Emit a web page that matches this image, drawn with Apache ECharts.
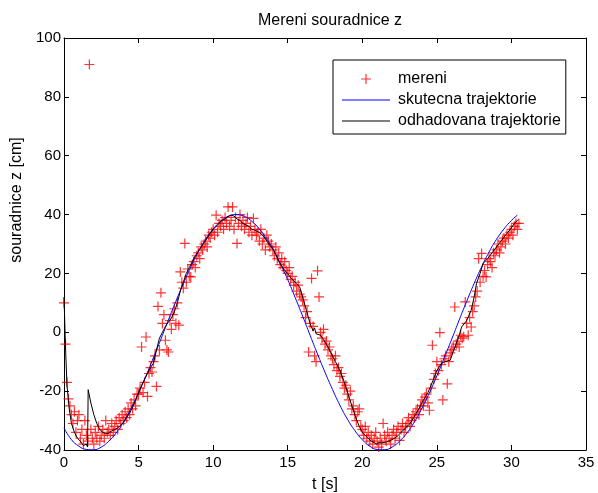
<!DOCTYPE html>
<html><head><meta charset="utf-8">
<script src="https://cdn.jsdelivr.net/npm/echarts@6/dist/echarts.min.js"></script>
<style>html,body{margin:0;padding:0;background:#fff}#c{width:598px;height:493px}</style>
</head><body><div id="c"></div>
<script>
const titleText = 'Mereni souradnice z';
const xName = 't [s]';
const yName = 'souradnice z [cm]';
const seriesNames = ['mereni', 'skutecna trajektorie', 'odhadovana trajektorie'];
const xTicks = { min: 0, max: 35, step: 5 };
const yTicks = { min: -40, max: 100, step: 20 };

// measurements sampled every 0.1 s from t = 0
const measT0 = 0, measDt = 0.1;
const measZ = [
  10, -4, -17, -22.6, -25, -28, -31, -27, -34, -30,
  -28, -36, -33, -38, -30, -35, -37, 91, -33, -36,
  -38, -34, -36, -32, -37, -35, -33, -36, -30, -34,
  -33, -35, -31, -34, -32, -30, -33, -29, -31, -28,
  -30, -27, -29, -26, -28, -24, -26, -23, -25, -21,
  -21, -19, -5, -20.5, -17, -1.6, -21.8, -14, -12, -13.5,
  -10, -8, -18.4, 8.8, -6, 13.4, 3, 6, -2.7, -6,
  -6.7, 4, 1, 6, 8, 3, 10, 2.4, 20.5, 17,
  15, 30.2, 17, 21.5, 19, 18.8, 23, 24, 22, 26,
  27, 25, 29, 28, 30, 31, 29, 33, 32, 34,
  35, 33, 39.8, 34, 37, 36, 38, 35, 39, 37,
  42.6, 36, 38, 42.6, 35, 39, 30.2, 37, 40, 36,
  38, 35, 37, 39, 34, 36, 33, 38.7, 35, 33,
  34, 31, 35, 30, 32, 28, 33, 31, 29, 30,
  28, 26, 29, 25, 27, 23, 25, 22, 24, 21,
  20, 22, 18, 19, 16, 17, 14, 16, 13, 12,
  11, 9, 5, 7, -6.7, 3, 18.3, 2, -8, -10,
  20.9, 12, 0, -2, 1, -4, -3, -6, -5, -8,
  -9, -11, -8, -13, -12, -15, -14, -17, -19, -18,
  -21, -23, -20, -26, -25, -28, -30, -27, -26, -32,
  -33, -35, -32, -36, -34, -37, -35, -38, -36, -34,
  -37, -39, -36, -38, -31, -35, -37, -34, -36, -38,
  -35, -33, -36, -34, -32, -36.7, -33, -31, -34, -32,
  -31, -29, -32, -30, -28, -29, -27, -26, -28, -25,
  -23, -25, -22, -21, -24, -26.5, -19, -4.4, -16, -14,
  -10, -13, -0.1, -11, -23, -9, -8, -17.5, -10, -7,
  -6, -5, 8.6, -4, -3, -5, -1, -2, -1.5, 10.3,
  3, -1, 5, 1.8, 7, 9, 12, 14, 25, 17,
  26.8, 19, 21, 18.8, 23, 25, 24, 22, 27, 26,
  28, 30, 27, 29, 31, 32, 30, 33, 32, 34,
  35, 33, 36, 37, 35, 37
];

// true trajectory
const trueT = [0, 0.5, 1, 1.5, 2, 2.5, 3, 3.5, 4, 4.5, 5, 5.5, 6, 6.5, 7, 7.5, 8, 8.5, 9, 9.5,
  10, 10.5, 11, 11.5, 12, 12.5, 13, 13.5, 14, 14.5, 15, 15.5, 16, 16.5, 17, 17.5, 18, 18.5, 19, 19.5,
  20, 20.5, 21, 21.5, 22, 22.5, 23, 23.5, 24, 24.5, 25, 25.5, 26, 26.5, 27, 27.5, 28, 28.5, 29, 29.5,
  30, 30.4];
const trueZ = [-32.5, -36.5, -38.7, -39.8, -39.9, -39, -37, -34.2, -30.4, -25.8, -20.6, -14.8, -8.6, -2.3, 4.2, 10.5, 16.6, 22.2, 27.3, 31.6,
  35.1, 37.7, 39.4, 40, 39.6, 38.1, 35.7, 32.4, 28.3, 23.4, 17.9, 11.8, 5.5, -1, -7.4, -13.6, -19.4, -24.8, -29.5, -33.4,
  -36.5, -38.7, -39.8, -39.9, -39, -37, -34.2, -30.4, -25.8, -20.6, -14.8, -8.6, -2.3, 4.2, 10.5, 16.6, 22.2, 27.3, 31.6, 35.1,
  38, 39.8];

// estimated trajectory
const estT = [0, 0.1, 0.2, 0.35, 0.5, 0.7, 0.9, 1.1, 1.3, 1.5, 1.58, 1.62, 1.8, 2, 2.2, 2.4, 2.6, 2.8, 3, 3.2,
  3.4, 3.6, 3.8, 4, 4.2, 4.4, 4.6, 4.8, 5, 5.2, 5.4, 5.6, 5.8, 6, 6.1, 6.2, 6.4, 6.6, 6.8, 7,
  7.2, 7.4, 7.6, 7.8, 8, 8.2, 8.4, 8.6, 8.8, 9, 9.2, 9.4, 9.6, 9.8, 10, 10.2, 10.4, 10.6, 10.8, 11,
  11.2, 11.4, 11.6, 11.8, 12, 12.2, 12.4, 12.6, 12.8, 13, 13.2, 13.4, 13.6, 13.8, 14, 14.2, 14.4, 14.6, 14.8, 15,
  15.2, 15.4, 15.6, 15.8, 16, 16.25, 16.5, 16.7, 16.8, 16.9, 17, 17.2, 17.4, 17.7, 18, 18.2, 18.5, 18.8, 19.05, 19.3,
  19.6, 19.8, 20, 20.3, 20.6, 20.95, 21.1, 21.3, 21.6, 22, 22.3, 22.6, 22.9, 23.2, 23.5, 23.8, 24.1, 24.4, 24.75, 25,
  25.3, 25.5, 25.9, 26.1, 26.3, 26.5, 26.66, 27, 27.3, 27.5, 27.66, 27.9, 28.1, 28.4, 28.7, 29, 29.3, 29.7, 30, 30.2,
  30.45];
const estZ = [12, -5, -18, -26, -31, -34, -36, -37, -38.5, -38, -39, -19.5, -24, -28, -31, -33, -34, -34.5, -34.3, -33.5,
  -33, -32.5, -31.6, -30.5, -29, -27.5, -25.5, -23, -20.5, -18, -16, -14, -12, -10.5, -10, -6, -2, 0, 2, 3.5,
  4.8, 7, 10, 14, 17, 20, 22, 24, 26, 27.5, 29, 30.5, 32, 33.5, 35, 36, 37, 38, 38.5, 39.3,
  39.8, 39.5, 38.5, 38, 37, 36.5, 36, 35, 34.7, 34.2, 33.5, 32.5, 31, 29.5, 28.5, 26.5, 24, 22.5, 21, 20,
  18.5, 17.5, 16.5, 15.4, 12, 7.5, 3, 0.5, 1.5, -0.5, 0, -1, -2.5, -5, -8, -10, -13, -17, -21, -25,
  -29.5, -32, -34, -35.6, -37, -37.9, -37.5, -37.6, -37.3, -36.5, -35.6, -34, -32.5, -31, -28.5, -26, -23, -20.5, -16.3, -13,
  -10.6, -10, -9.5, -6.5, -3.9, -1, 1.8, 4, 7.5, 12, 16.6, 20, 23.4, 25, 27, 29, 31, 33.6, 35.5, 37,
  38.3];

const FONT = '"Liberation Sans", Arial, Helvetica, sans-serif';
const plusPath = 'path://M4.4,0h1.2v10h-1.2z M0,4.4h10v1.2h-10z';
const linePath = 'path://M0,0h48v1h-48z';

const measData = measZ.map((z, i) => [+(measT0 + i * measDt).toFixed(2), z]);
const trueData = trueT.map((t, i) => [t, trueZ[i]]);
const estData = estT.map((t, i) => [t, estZ[i]]);

const axisCommon = {
  type: 'value',
  axisLine: { show: true, onZero: false, lineStyle: { color: '#000', width: 1 } },
  axisTick: { show: true, inside: true, length: 5, lineStyle: { color: '#000', width: 1 } },
  splitLine: { show: false },
  axisLabel: { color: '#000', fontSize: 15, fontFamily: FONT }
};

const chart = echarts.init(document.getElementById('c'), null, { renderer: 'canvas' });
chart.setOption({
  animation: false,
  backgroundColor: '#fff',
  textStyle: { fontFamily: FONT },
  title: {
    text: titleText, left: 253, top: 8,
    textStyle: { fontSize: 16, fontWeight: 'normal', color: '#000', fontFamily: FONT }
  },
  grid: { left: 64, right: 12, top: 38, bottom: 43, containLabel: false, outerBoundsMode: 'none' },
  xAxis: [
    Object.assign({}, axisCommon, {
      position: 'bottom', min: xTicks.min, max: xTicks.max, interval: xTicks.step,
      axisLabel: Object.assign({}, axisCommon.axisLabel, { margin: 5 }),
      name: xName, nameLocation: 'middle', nameGap: 27,
      nameTextStyle: { color: '#000', fontSize: 16, fontFamily: FONT }
    }),
    Object.assign({}, axisCommon, {
      position: 'top', min: xTicks.min, max: xTicks.max, interval: xTicks.step,
      axisLabel: { show: false }
    })
  ],
  yAxis: [
    Object.assign({}, axisCommon, {
      position: 'left', min: yTicks.min, max: yTicks.max, interval: yTicks.step,
      axisLabel: Object.assign({}, axisCommon.axisLabel, { margin: 3 }),
      name: yName, nameLocation: 'middle', nameGap: 38,
      nameTextStyle: { color: '#000', fontSize: 16, fontFamily: FONT, padding: [0, 0, 0, 88] }
    }),
    Object.assign({}, axisCommon, {
      position: 'right', min: yTicks.min, max: yTicks.max, interval: yTicks.step,
      axisLabel: { show: false }
    })
  ],
  legend: {
    orient: 'vertical', left: 333, top: 60,
    backgroundColor: '#fff', borderColor: '#000', borderWidth: 1,
    padding: [11, 5, 5, 9],
    itemWidth: 48, itemHeight: 10, itemGap: 5,
    symbolKeepAspect: true,
    textStyle: { color: '#000', fontSize: 16, lineHeight: 16, fontFamily: FONT, padding: [0, 0, 0, 3] },
    data: [
      { name: seriesNames[0], icon: plusPath, itemStyle: { color: '#ff0000' } },
      { name: seriesNames[1], icon: linePath, itemStyle: { color: '#0000ff' } },
      { name: seriesNames[2], icon: linePath, itemStyle: { color: '#000000' } }
    ]
  },
  series: [
    {
      name: seriesNames[0], type: 'scatter', data: measData,
      symbol: plusPath, symbolSize: 10, symbolKeepAspect: true,
      itemStyle: { color: '#ff0000', opacity: 0.8 }, z: 2
    },
    {
      name: seriesNames[1], type: 'line', data: trueData, smooth: true,
      showSymbol: false, symbol: 'none',
      lineStyle: { color: '#0000ff', width: 1 }, itemStyle: { color: '#0000ff' }, z: 3
    },
    {
      name: seriesNames[2], type: 'line', data: estData,
      showSymbol: false, symbol: 'none',
      lineStyle: { color: '#000000', width: 1 }, itemStyle: { color: '#000000' }, z: 4
    }
  ]
});
</script>
</body></html>
